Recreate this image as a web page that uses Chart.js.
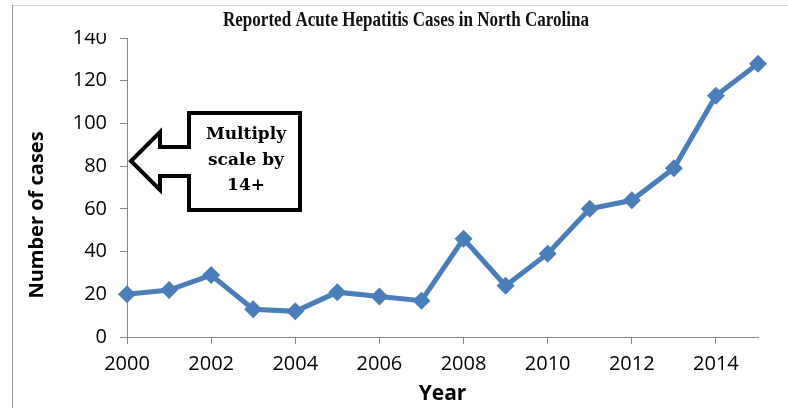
<!DOCTYPE html>
<html>
<head>
<meta charset="utf-8">
<script src="https://cdn.jsdelivr.net/npm/chart.js@4.4.0/dist/chart.umd.min.js"></script>
<style>
  html, body { margin: 0; padding: 0; background: #fff; }
  #wrap { width: 788px; height: 408px; }
</style>
</head>
<body>
<div id="wrap"><canvas id="hep" width="788" height="408"></canvas></div>
<script>
// reported cases per year
const years = [2000, 2001, 2002, 2003, 2004, 2005, 2006, 2007, 2008, 2009, 2010, 2011, 2012, 2013, 2014, 2015];
const cases = [20, 22, 29, 13, 12, 21, 19, 17, 46, 24, 39, 60, 64, 79, 113, 128];
const yTicks = [0, 20, 40, 60, 80, 100, 120, 140];
const xTicks = [2000, 2002, 2004, 2006, 2008, 2010, 2012, 2014];
const calloutLines = ["Multiply", "scale by", "14+"];
const chartTitle = "Reported Acute Hepatitis Cases in North Carolina";
const yTitle = "Number of cases";

const blue = "#4a7ebb";
const axisGrey = "#868686";

const frame = {
  id: "frame",
  beforeDraw(chart) {
    const ctx = chart.ctx;
    ctx.save();
    ctx.fillStyle = "#fff";
    ctx.fillRect(0, 0, chart.width, chart.height);
    ctx.strokeStyle = "#d4d4d4";
    ctx.lineWidth = 1;
    ctx.beginPath();
    ctx.moveTo(12, 5.5);
    ctx.lineTo(chart.width, 5.5);
    ctx.stroke();
    ctx.strokeStyle = "#9a9a9a";
    ctx.beginPath();
    ctx.moveTo(12.5, 5);
    ctx.lineTo(12.5, chart.height);
    ctx.stroke();

    // condensed serif title
    ctx.fillStyle = "#111";
    ctx.font = "bold 22px 'Liberation Serif'";
    ctx.textBaseline = "middle";
    ctx.textAlign = "center";
    const w = ctx.measureText(chartTitle).width;
    ctx.save();
    ctx.translate(406, 20);
    ctx.scale(366 / w, 1);
    ctx.fillText(chartTitle, 0, 0);
    ctx.restore();

    // y axis title sits a bit below the middle of the axis in the original
    ctx.font = "bold 20px 'Open Sans'";
    ctx.fillStyle = "#000";
    ctx.translate(37, 215);
    ctx.rotate(-Math.PI / 2);
    ctx.fillText(yTitle, 0, 0);
    ctx.restore();
  }
};

const callout = {
  id: "callout",
  afterDraw(chart) {
    const ctx = chart.ctx;
    // top of the "140" label is cut off in the original
    ctx.save();
    ctx.fillStyle = "#fff";
    ctx.fillRect(80, 22, 40, 11);

    ctx.beginPath();
    ctx.moveTo(300, 113);
    ctx.lineTo(300, 210);
    ctx.lineTo(189, 210);
    ctx.lineTo(189, 176);
    ctx.lineTo(160, 176);
    ctx.lineTo(160, 190);
    ctx.lineTo(131, 161);
    ctx.lineTo(160, 132);
    ctx.lineTo(160, 147);
    ctx.lineTo(189, 147);
    ctx.lineTo(189, 113);
    ctx.closePath();
    ctx.fillStyle = "#fff";
    ctx.fill();
    ctx.lineWidth = 4;
    ctx.lineJoin = "miter";
    ctx.strokeStyle = "#000";
    ctx.stroke();

    ctx.fillStyle = "#000";
    ctx.font = "bold 17px 'DejaVu Serif'";
    ctx.textAlign = "center";
    ctx.textBaseline = "middle";
    calloutLines.forEach((t, i) => ctx.fillText(t, 246, 135 + i * 25.5));
    ctx.restore();
  }
};

new Chart(document.getElementById("hep"), {
  type: "line",
  data: {
    datasets: [{
      data: years.map((y, i) => ({ x: y, y: cases[i] })),
      borderColor: blue,
      backgroundColor: blue,
      borderWidth: 5,
      pointStyle: "rectRot",
      pointRadius: 9,
      pointHoverRadius: 9,
      pointBorderWidth: 0,
      pointBackgroundColor: blue,
      tension: 0,
      clip: false
    }]
  },
  options: {
    responsive: false,
    animation: false,
    layout: { padding: { top: 38, left: 20, right: 30, bottom: 0 } },
    plugins: {
      legend: { display: false },
      title: { display: false },
      tooltip: { enabled: false }
    },
    scales: {
      x: {
        type: "linear",
        min: 2000,
        max: 2015,
        afterBuildTicks: s => { s.ticks = xTicks.map(v => ({ value: v })); },
        afterFit: s => { s.height = 71; },
        border: { color: axisGrey, width: 1 },
        grid: { drawOnChartArea: false, drawTicks: true, tickLength: 7, color: axisGrey },
        ticks: {
          color: "#000",
          padding: 8,
          font: { family: "'Open Sans'", size: 20 },
          callback: v => String(v)
        },
        title: {
          display: true,
          text: "Year",
          color: "#000",
          padding: { top: 0, bottom: 1 },
          font: { family: "'Open Sans'", size: 21, weight: "bold" }
        }
      },
      y: {
        min: 0,
        max: 140,
        afterBuildTicks: s => { s.ticks = yTicks.map(v => ({ value: v })); },
        afterFit: s => { s.width = 107; },
        border: { color: axisGrey, width: 1 },
        grid: { drawOnChartArea: false, drawTicks: true, tickLength: 7, color: axisGrey },
        ticks: {
          color: "#000",
          padding: 13,
          font: { family: "'Open Sans'", size: 20 }
        },
        title: { display: false }
      }
    }
  },
  plugins: [frame, callout]
});
</script>
</body>
</html>
